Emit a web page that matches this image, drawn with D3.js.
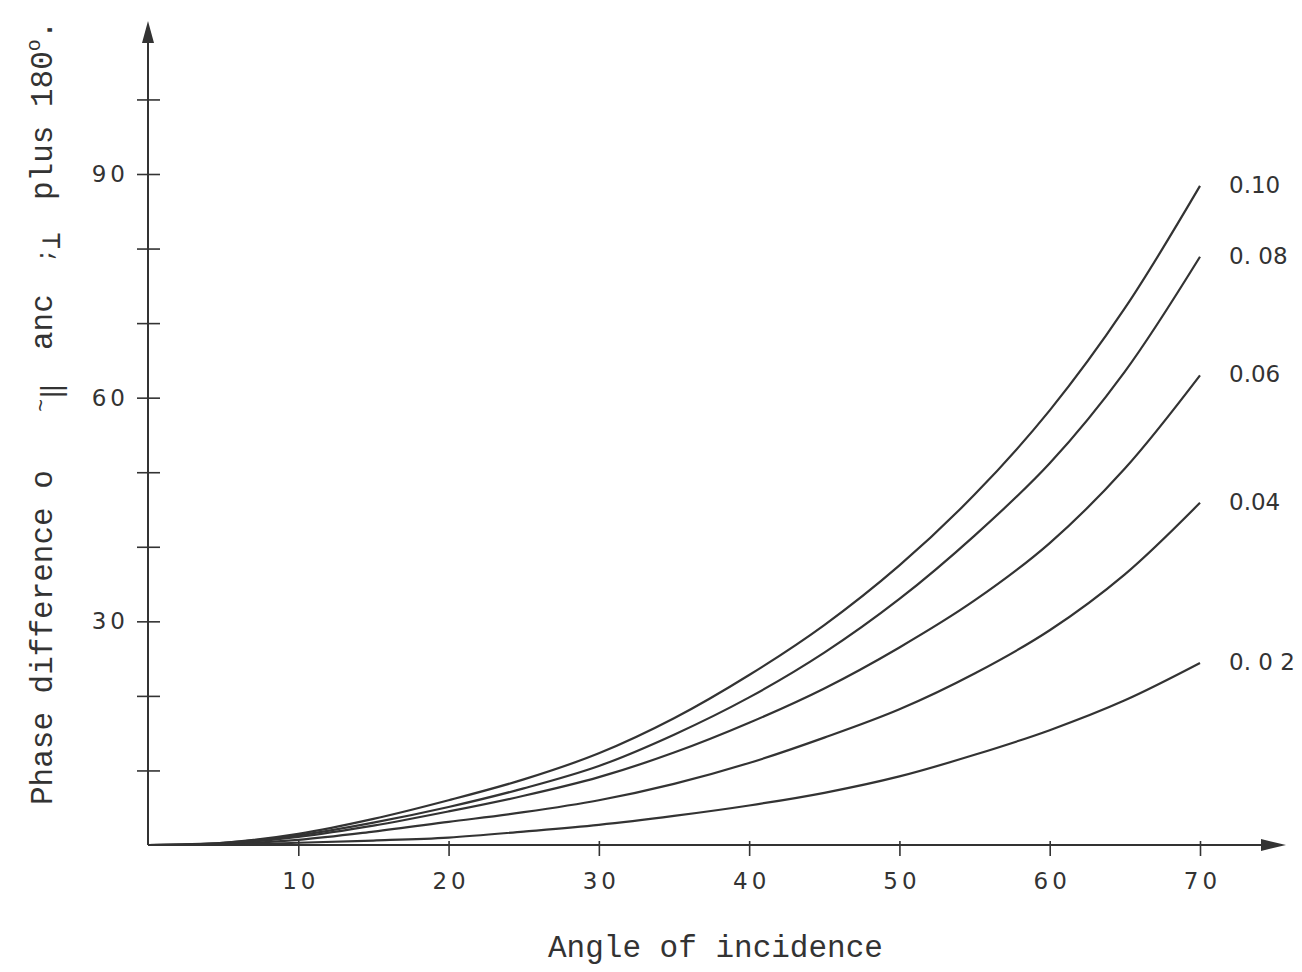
<!DOCTYPE html>
<html>
<head>
<meta charset="utf-8">
<script src="https://cdn.jsdelivr.net/npm/d3@7"></script>
<style>
  html, body { margin: 0; padding: 0; background: #fff; }
  svg { display: block; }
</style>
</head>
<body>
<div id="screen"></div>
<script>
// angle of incidence (degrees)
const angles = [0, 5, 10, 15, 20, 25, 30, 35, 40, 45, 50, 55, 60, 65, 70];

// phase difference, one array per k value
const k010 = [0, 0.3, 1.5, 3.5, 6.0, 8.8, 12.3, 17.0, 22.8, 29.5, 37.5, 47.0, 58.3, 72.0, 88.4];
const k008 = [0, 0.3, 1.3, 3.0, 5.1, 7.6, 10.6, 14.8, 19.8, 25.8, 33.0, 41.5, 51.2, 63.5, 78.9];
const k006 = [0, 0.2, 1.1, 2.6, 4.5, 6.6, 9.1, 12.4, 16.4, 21.0, 26.5, 32.8, 40.5, 50.5, 63.0];
const k004 = [0, 0.15, 0.7, 1.8, 3.1, 4.4, 6.0, 8.2, 11.0, 14.4, 18.2, 23.0, 28.8, 36.3, 45.9];
const k002 = [0, 0.05, 0.3, 0.6, 1.0, 1.8, 2.7, 3.9, 5.3, 7.0, 9.2, 12.1, 15.4, 19.4, 24.4];

const seriesNames = ["0.10", "0. 08", "0.06", "0.04", "0. 0 2"];
const seriesValues = [k010, k008, k006, k004, k002];

const xTicks = [10, 20, 30, 40, 50, 60, 70];
const yTicks = [10, 20, 30, 40, 50, 60, 70, 80, 90, 100];
const yLabelled = [30, 60, 90];

var W = 1302, H = 972;
var ink = "#333";
var sans = "'Liberation Sans Narrow', 'DejaVu Sans', sans-serif";

var svg = d3.select("#screen").append("svg").attr("width", W).attr("height", H);

var x = d3.scaleLinear().domain([0, 70]).range([148, 1200]);
var y = d3.scaleLinear().domain([0, 90]).range([845, 174]);

// axes lines with arrow heads
svg.append("line")
    .attr("x1", x(0)).attr("x2", 1270)
    .attr("y1", y(0)).attr("y2", y(0))
    .attr("stroke", ink).attr("stroke-width", 2);
svg.append("path")
    .attr("d", `M1286,${y(0)} L1261,${y(0) - 6} L1261,${y(0) + 6} Z`)
    .attr("fill", ink);

svg.append("line")
    .attr("x1", x(0)).attr("x2", x(0))
    .attr("y1", y(0)).attr("y2", 36)
    .attr("stroke", ink).attr("stroke-width", 2);
svg.append("path")
    .attr("d", `M${x(0)},21 L${x(0) - 6},43 L${x(0) + 6},43 Z`)
    .attr("fill", ink);

// y ticks
var yAxis = svg.append("g")
    .attr("transform", `translate(${x(0)},0)`)
    .call(d3.axisLeft(y).tickValues(yTicks).tickSize(11).tickPadding(8)
        .tickFormat(d => yLabelled.includes(d) ? d : ""));
yAxis.select(".domain").remove();
yAxis.selectAll(".tick line").attr("x2", 12).attr("x1", -11)
    .attr("stroke", ink).attr("stroke-width", 1.6);
yAxis.selectAll(".tick text")
    .attr("x", -19)
    .style("font-family", sans)
    .style("font-size", "23px")
    .style("letter-spacing", "4px")
    .attr("fill", ink);

// x ticks
var xAxis = svg.append("g")
    .attr("transform", `translate(0,${y(0)})`)
    .call(d3.axisBottom(x).tickValues(xTicks).tickSize(11).tickPadding(17));
xAxis.select(".domain").remove();
xAxis.selectAll(".tick line").attr("y1", -4).attr("y2", 11)
    .attr("stroke", ink).attr("stroke-width", 1.6);
xAxis.selectAll(".tick text")
    .style("font-family", sans)
    .style("font-size", "23px")
    .style("letter-spacing", "4px")
    .attr("dx", "2px")
    .attr("fill", ink);

// curves
var line = d3.line()
    .x((d, i) => x(angles[i]))
    .y(d => y(d))
    .curve(d3.curveCatmullRom);

svg.append("g").selectAll("path")
    .data(seriesValues)
    .join("path")
    .attr("d", d => line(d))
    .attr("fill", "none")
    .attr("stroke", ink)
    .attr("stroke-width", 2.2);

// curve labels
svg.append("g").selectAll("text")
    .data(seriesValues)
    .join("text")
    .attr("x", 1229)
    .attr("y", d => y(d[d.length - 1]) + 7)
    .text((d, i) => seriesNames[i])
    .style("font-family", sans)
    .style("font-size", "23px")
    .attr("fill", ink);

// axis titles
var mono = "'Liberation Mono', 'DejaVu Sans Mono', monospace";

svg.append("text")
    .attr("x", 548).attr("y", 957)
    .text("Angle of incidence")
    .style("font-family", mono)
    .style("font-size", "31px")
    .attr("fill", ink);

var yTitle = svg.append("text")
    .attr("transform", "translate(52,805) rotate(-90)")
    .style("font-family", mono)
    .style("font-size", "31px")
    .attr("fill", ink);
yTitle.append("tspan").attr("x", 0).attr("y", 0).text("Phase difference o");
yTitle.append("tspan").attr("x", 393).attr("y", -4).style("font-size", "22px").text("~");
yTitle.append("tspan").attr("x", 406).attr("y", 8).style("font-size", "26px").text("\u2016");
yTitle.append("tspan").attr("x", 455).attr("y", 0).text("anc");
yTitle.append("tspan").attr("x", 543).attr("y", 0).style("font-size", "22px").text(";");
yTitle.append("tspan").attr("x", 556).attr("y", 8).style("font-size", "28px").text("\u22a5");
yTitle.append("tspan").attr("x", 605).attr("y", 0).text("plus 180");
yTitle.append("tspan").attr("y", -12).style("font-size", "20px").text("o");
yTitle.append("tspan").attr("y", 0).text(".");
</script>
</body>
</html>
